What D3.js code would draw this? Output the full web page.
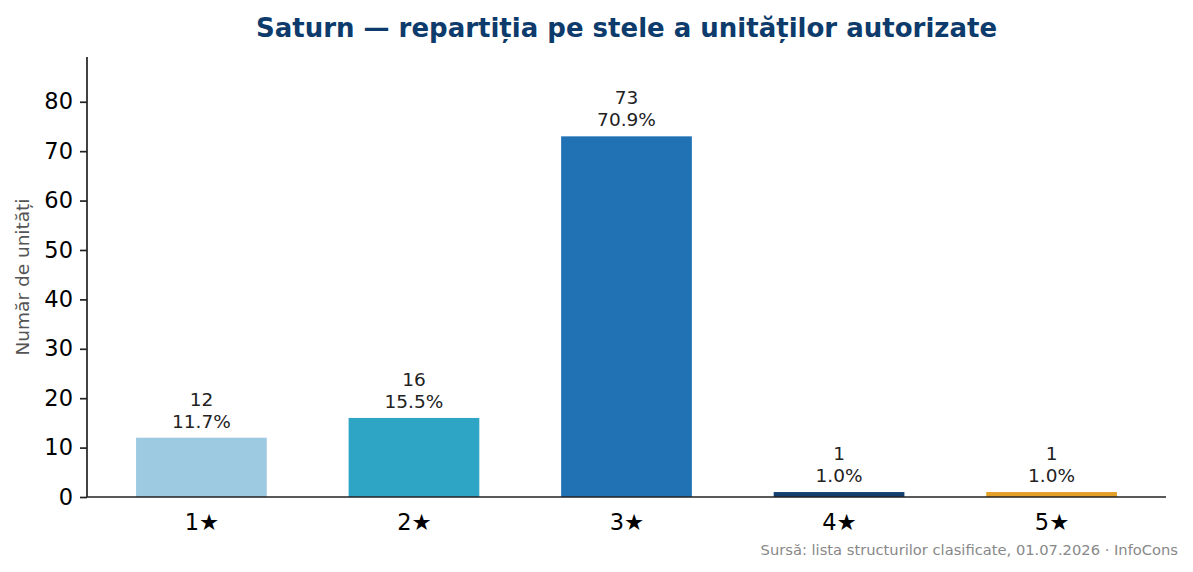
<!DOCTYPE html>
<html>
<head>
<meta charset="utf-8">
<script src="https://cdn.jsdelivr.net/npm/d3@7"></script>
<style>
  html, body { margin: 0; padding: 0; background: #fff; }
  svg { display: block; font-family: "DejaVu Sans", sans-serif; }
</style>
</head>
<body>
<div id="chart"></div>
<script>
// Star categories, counts and bar colours
const categories = ["1★", "2★", "3★", "4★", "5★"];
const counts = [12, 16, 73, 1, 1];
const percents = ["11.7%", "15.5%", "70.9%", "1.0%", "1.0%"];
const colors = ["#9ecae1", "#2ea5c5", "#2171b5", "#123f6e", "#e39f26"];
const yTicks = [0, 10, 20, 30, 40, 50, 60, 70, 80];

const W = 1193, H = 572;
const M = { top: 57, right: 27, bottom: 75, left: 87 };
const iW = W - M.left - M.right;
const iH = H - M.top - M.bottom;
const BAR_W = 0.615;

const svg = d3.select("#chart").append("svg")
  .attr("width", W).attr("height", H).attr("viewBox", `0 0 ${W} ${H}`);
const g = svg.append("g").attr("transform", `translate(${M.left},${M.top})`);

// matplotlib-like margins: 5% around the bar extent
const pad = 0.05 * (categories.length - 1 + BAR_W);
const x = d3.scaleLinear()
  .domain([-BAR_W / 2 - pad, categories.length - 1 + BAR_W / 2 + pad])
  .range([0, iW]);
const y = d3.scaleLinear().domain([0, d3.max(counts) * 1.22]).range([iH, 0]);

// Bars
g.selectAll(".bar").data(counts).join("rect")
  .attr("class", "bar")
  .attr("x", (d, i) => x(i - BAR_W / 2))
  .attr("width", x(BAR_W) - x(0))
  .attr("y", d => y(d))
  .attr("height", d => y(0) - y(d))
  .attr("fill", (d, i) => colors[i]);

// Value labels (count + share)
const lbl = g.selectAll(".lbl").data(counts).join("text")
  .attr("class", "lbl")
  .attr("text-anchor", "middle")
  .attr("font-size", "18.5px")
  .attr("fill", "#222");
lbl.append("tspan")
  .attr("x", (d, i) => x(i)).attr("y", d => y(d) - 32)
  .text(d => d);
lbl.append("tspan")
  .attr("x", (d, i) => x(i)).attr("y", d => y(d) - 10)
  .text((d, i) => percents[i]);

// Y axis
const yAxis = g.append("g")
  .call(d3.axisLeft(y).tickValues(yTicks).tickSize(7).tickPadding(7));
yAxis.select(".domain").attr("stroke", "#222").attr("stroke-width", 1.7)
  .attr("d", `M0,${iH}V0`);
yAxis.selectAll(".tick line").attr("stroke", "#222").attr("stroke-width", 1.7);
yAxis.selectAll(".tick text").attr("font-size", "22.5px").attr("fill", "#000")
  .attr("font-family", "DejaVu Sans");

// X axis
const xAxis = g.append("g").attr("transform", `translate(0,${iH})`)
  .call(d3.axisBottom(x).tickValues(d3.range(categories.length))
    .tickFormat(i => categories[i]).tickSize(0).tickPadding(17));
xAxis.select(".domain").attr("stroke", "#222").attr("stroke-width", 1.7)
  .attr("d", `M0,0H${iW}`);
xAxis.selectAll(".tick text").attr("font-size", "22.5px").attr("fill", "#000")
  .attr("font-family", "DejaVu Sans");

// Axis label
g.append("text")
  .attr("transform", "rotate(-90)")
  .attr("x", -iH / 2).attr("y", -58)
  .attr("text-anchor", "middle")
  .attr("font-size", "18.5px").attr("fill", "#555")
  .text("Număr de unități");

// Title
svg.append("text")
  .attr("x", M.left + iW / 2).attr("y", 37)
  .attr("text-anchor", "middle")
  .attr("font-size", "26px").attr("font-weight", "bold").attr("fill", "#0d3b6b")
  .text("Saturn — repartiția pe stele a unităților autorizate");

// Source note
svg.append("text")
  .attr("x", 1178).attr("y", 555)
  .attr("text-anchor", "end")
  .attr("font-size", "14.7px").attr("fill", "#888")
  .text("Sursă: lista structurilor clasificate, 01.07.2026 · InfoCons");
</script>
</body>
</html>
